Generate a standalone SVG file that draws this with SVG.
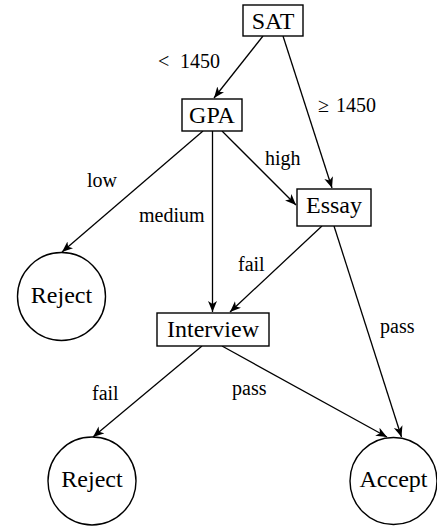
<svg xmlns="http://www.w3.org/2000/svg" width="437" height="527" viewBox="0 0 437 527">
<style>
.box{fill:#fff;stroke:#000;stroke-width:1.4}
.nt{font-family:'Times New Roman',Times,'Liberation Serif','Nimbus Roman','DejaVu Serif',serif;font-size:24px;fill:#000;text-anchor:middle}
.lb{font-family:'Times New Roman',Times,'Liberation Serif','Nimbus Roman','DejaVu Serif',serif;font-size:20px;fill:#000}
.edge{stroke:#000;stroke-width:1.3;fill:none;marker-end:url(#arr)}
</style>
<defs>
<marker id="arr" markerUnits="userSpaceOnUse" markerWidth="12" markerHeight="10" refX="11" refY="4.5" orient="auto">
<path d="M0,0 L11,4.5 L0,9 L3,4.5 Z" fill="#000"/>
</marker>
</defs>
<g id="connectors">
<line class="edge" x1="263" y1="36" x2="214" y2="98"/>
<line class="edge" x1="283" y1="36" x2="332" y2="188"/>
<line class="edge" x1="203" y1="131" x2="62" y2="252"/>
<line class="edge" x1="212.5" y1="131" x2="212.5" y2="312"/>
<line class="edge" x1="222" y1="131" x2="296" y2="205"/>
<line class="edge" x1="322" y1="226" x2="230" y2="312"/>
<line class="edge" x1="334" y1="226" x2="401.5" y2="437"/>
<line class="edge" x1="202" y1="346" x2="93" y2="437"/>
<line class="edge" x1="222" y1="346" x2="387" y2="437"/>
<text class="lb"><tspan x="158" y="68">&lt;</tspan><tspan x="180" y="68">1450</tspan></text>
<text class="lb"><tspan x="318" y="112">≥</tspan><tspan x="336" y="112">1450</tspan></text>
<text class="lb" x="87" y="187">low</text>
<text class="lb" x="139" y="222">medium</text>
<text class="lb" x="265" y="165">high</text>
<text class="lb" x="238" y="271">fail</text>
<text class="lb" x="380" y="333">pass</text>
<text class="lb" x="92" y="400">fail</text>
<text class="lb" x="232" y="395">pass</text>
</g>
<g id="sat"><rect class="box" x="243" y="5" width="60" height="31"/><text class="nt" x="273" y="28.5">SAT</text></g>
<g id="gpa"><rect class="box" x="182" y="99" width="60" height="32"/><text class="nt" x="212" y="123">GPA</text></g>
<g id="essay"><rect class="box" x="297" y="189" width="74" height="37"/><text class="nt" x="334" y="213">Essay</text></g>
<g id="interview"><rect class="box" x="157" y="313" width="112" height="33"/><text class="nt" x="213" y="337">Interview</text></g>
<g id="reject1"><circle class="box" cx="61.5" cy="296.5" r="44"/><text class="nt" x="61.5" y="303">Reject</text></g>
<g id="reject2"><circle class="box" cx="92" cy="481" r="44"/><text class="nt" x="92" y="487">Reject</text></g>
<g id="accept"><circle class="box" cx="393.5" cy="481" r="43.5"/><text class="nt" x="393.5" y="487">Accept</text></g>
</svg>
